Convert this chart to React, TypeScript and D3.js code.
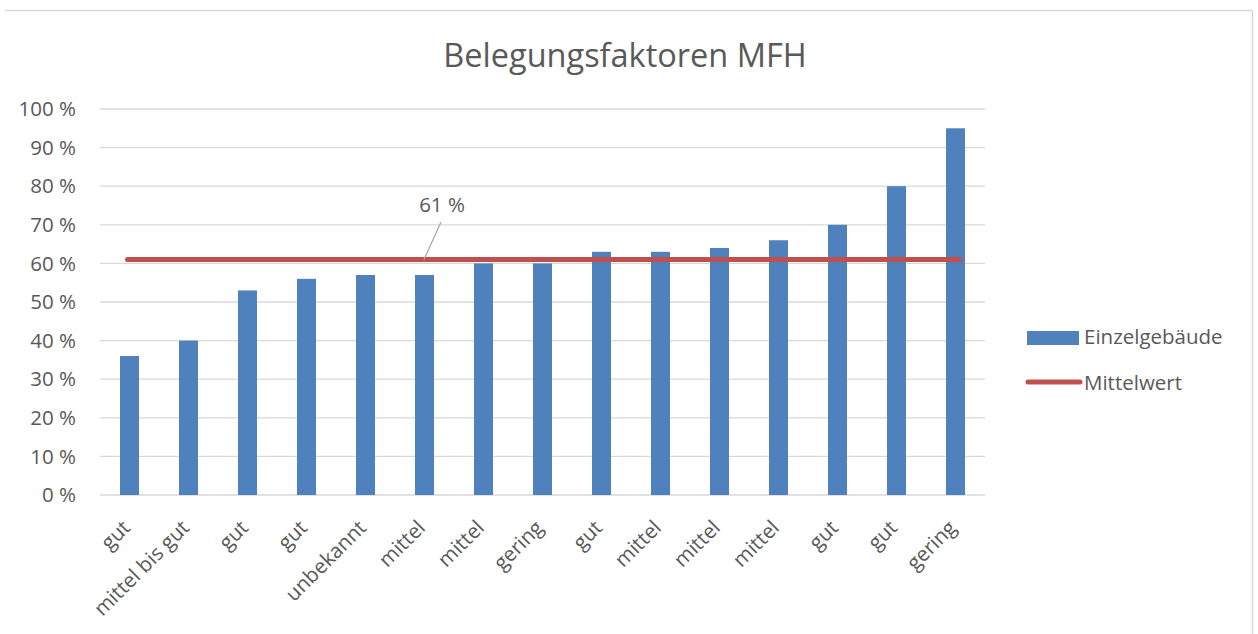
import React from "react";
import * as d3 from "d3";

const categories = ["gut", "mittel bis gut", "gut", "gut", "unbekannt", "mittel", "mittel", "gering", "gut", "mittel", "mittel", "mittel", "gut", "gut", "gering"];
const values = [36, 40, 53, 56, 57, 57, 60, 60, 63, 63, 64, 66, 70, 80, 95];
const meanValue = 61;
const yTicks = [0, 10, 20, 30, 40, 50, 60, 70, 80, 90, 100];
const title = "Belegungsfaktoren MFH";
const seriesNames = ["Einzelgebäude", "Mittelwert"];

const W = 1258;
const H = 634;
const FONT = "'Open Sans', sans-serif";
const TEXT = "#595959";
const BLUE = "#4F81BD";
const RED = "#C0504D";
const GRID = "#D9D9D9";
const FS = 20.5;

export default function App() {
  const left = 100, right = 985, top = 109, bottom = 495;
  const x = d3.scaleBand<number>().domain(d3.range(categories.length)).range([left, right]).paddingInner(0.68).paddingOuter(0.34);
  const y = d3.scaleLinear().domain([0, 100]).range([bottom, top]);
  const cx = (i: number) => (x(i) as number) + x.bandwidth() / 2;
  const bw = 19;
  const meanY = y(meanValue);

  return (
    <div style={{ position: "absolute", left: 0, top: 0 }}>
      <svg width={W} height={H} style={{ display: "block", fontFamily: FONT }}>
        <rect x={0} y={0} width={W} height={H} fill="#fff" />
        <line x1={5} y1={10.5} x2={1252.5} y2={10.5} stroke={GRID} strokeWidth={1.5} />
        <line x1={1252.5} y1={10.5} x2={1252.5} y2={H} stroke={GRID} strokeWidth={1.5} />
        <text x={625} y={67} textAnchor="middle" fontSize={32.5} fill={TEXT}>{title}</text>
        {yTicks.map((t) => (
          <g key={t}>
            <line x1={left} x2={right} y1={y(t)} y2={y(t)} stroke={GRID} strokeWidth={1.3} />
            <text x={76} y={y(t)} dy="0.35em" textAnchor="end" fontSize={FS} fill={TEXT}>{`${t} %`}</text>
          </g>
        ))}
        {values.map((v, i) => (
          <rect key={i} x={cx(i) - bw / 2} y={y(v)} width={bw} height={y(0) - y(v)} fill={BLUE} />
        ))}
        <line x1={cx(0) - 2} x2={cx(categories.length - 1) + 4} y1={meanY} y2={meanY} stroke={RED} strokeWidth={5} strokeLinecap="round" />
        <line x1={441} y1={222} x2={424} y2={meanY} stroke="#A6A6A6" strokeWidth={1.2} />
        <text x={442} y={212} textAnchor="middle" fontSize={FS} fill={TEXT}>{`${meanValue} %`}</text>
        {categories.map((c, i) => (
          <text key={i} transform={`translate(${cx(i) + 2},${529}) rotate(-45)`} textAnchor="end" fontSize={FS} fill={TEXT}>{c}</text>
        ))}
        <rect x={1027} y={331} width={52} height={14} fill={BLUE} />
        <text x={1084} y={344} fontSize={FS} fill={TEXT}>{seriesNames[0]}</text>
        <line x1={1028} x2={1080} y1={382} y2={382} stroke={RED} strokeWidth={5} strokeLinecap="round" />
        <text x={1084} y={390} fontSize={FS} fill={TEXT}>{seriesNames[1]}</text>
      </svg>
    </div>
  );
}
